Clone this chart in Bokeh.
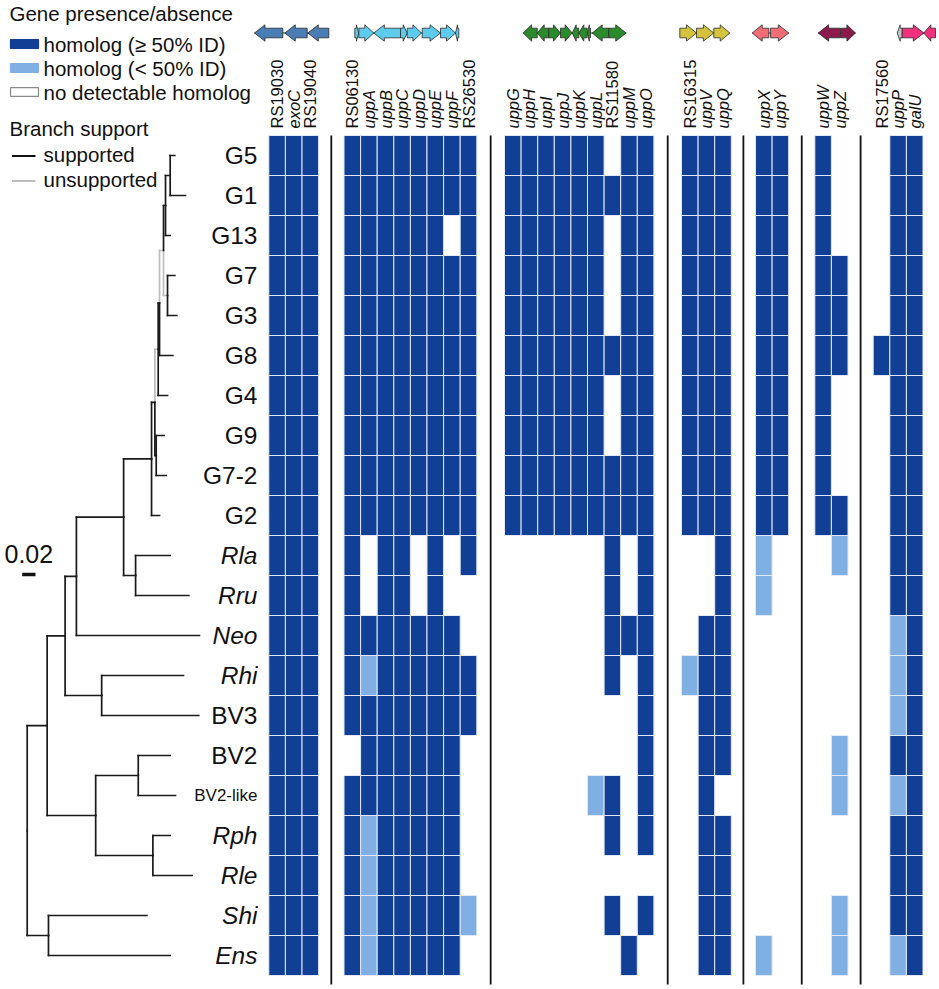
import numpy as np
from bokeh.plotting import figure
from bokeh.models import Range1d, ColumnDataSource
from bokeh.core.properties import value
from bokeh.embed import file_html
from bokeh.resources import INLINE

# ---------------- data ----------------
row_labels = ["G5", "G1", "G13", "G7", "G3", "G8", "G4", "G9", "G7-2", "G2",
              "Rla", "Rru", "Neo", "Rhi", "BV3", "BV2", "BV2-like", "Rph", "Rle", "Shi", "Ens"]
italic_rows = ["Rla", "Rru", "Neo", "Rhi", "Rph", "Rle", "Shi", "Ens"]

group_genes = [
    ["RS19030", "exoC", "RS19040"],
    ["RS06130", "uppA", "uppB", "uppC", "uppD", "uppE", "uppF", "RS26530"],
    ["uppG", "uppH", "uppI", "uppJ", "uppK", "uppL", "RS11580", "uppM", "uppO"],
    ["RS16315", "uppV", "uppQ"],
    ["uppX", "uppY"],
    ["uppW", "uppZ"],
    ["RS17560", "uppP", "galU"],
]

# 2 = homolog >=50% ID, 1 = homolog <50% ID, 0 = none (groups separated by spaces)
presence = [
    "222 22222222 222222022 222 22 20 022",  # G5
    "222 22222222 222222222 222 22 20 022",  # G1
    "222 22222202 222222022 222 22 20 022",  # G13
    "222 22222222 222222022 222 22 22 022",  # G7
    "222 22222222 222222022 222 22 22 022",  # G3
    "222 22222222 222222222 222 22 22 222",  # G8
    "222 22222222 222222022 222 22 20 022",  # G4
    "222 22222222 222222022 222 22 20 022",  # G9
    "222 22222222 222222222 222 22 20 022",  # G7-2
    "222 22222222 222222222 222 22 22 022",  # G2
    "222 20220202 000000202 002 10 01 022",  # Rla
    "222 20220200 000000202 002 10 00 022",  # Rru
    "222 22222220 000000222 022 00 00 012",  # Neo
    "222 21222222 000000202 122 00 00 012",  # Rhi
    "222 22222222 000000002 022 00 00 012",  # BV3
    "222 02222220 000000002 022 00 01 022",  # BV2
    "222 22222220 000001202 020 00 01 012",  # BV2-like
    "222 21222220 000000202 022 00 00 022",  # Rph
    "222 21222220 000000000 022 00 00 022",  # Rle
    "222 21222221 000000202 022 00 01 022",  # Shi
    "222 21222220 000000020 022 10 01 012",  # Ens
]

# tree: tip depths (substitutions/site from root) in row order
tip_depth = [0.222, 0.238, 0.215, 0.222, 0.225, 0.219, 0.211, 0.206, 0.209, 0.199,
             0.215, 0.243, 0.259, 0.235, 0.258, 0.215, 0.223, 0.215, 0.248, 0.180, 0.215]
node_names = ["N1", "N2", "N7", "N3", "N4", "N5", "N8", "N6", "GR", "RR", "NR", "A1a",
              "RB", "A1", "BB", "RL", "A2", "A", "SE", "root"]
node_child1 = ["G5", "N1", "G7", "N2", "N3", "N4", "G9", "N5", "N6", "Rla", "GR", "NR",
               "Rhi", "A1a", "BV2", "Rph", "BB", "A1", "Shi", "A"]
node_child2 = ["G1", "G13", "G3", "N7", "G8", "G4", "G7-2", "N8", "G2", "Rru", "RR", "Neo",
               "BV3", "RB", "BV2-like", "Rle", "RL", "A2", "Ens", "SE"]
node_depth = [0.215, 0.208, 0.211, 0.205, 0.199, 0.197, 0.194, 0.192, 0.187, 0.163, 0.145, 0.074,
              0.112, 0.057, 0.167, 0.189, 0.103, 0.030, 0.032, 0.0]
unsupported = ["N7", "N3", "N5"]
scale_bar_len = 0.02

# gene-cluster arrows (start, end, strand) per cluster, drawn above columns
arrow_cluster = [0, 0, 0,
                 1, 1, 1, 1, 1, 1, 1, 1,
                 2, 2, 2, 2, 2, 2, 2, 2, 2,
                 3, 3, 3,
                 4, 4,
                 5, 5,
                 6, 6, 6]
arrow_start = [254.0, 284.3, 307.3,
               354.3, 358.3, 373.3, 400.0, 406.7, 421.7, 440.0, 455.0,
               522.7, 536.7, 548.3, 560.0, 571.7, 578.3, 587.0, 591.7, 608.3,
               679.3, 696.0, 713.3,
               751.7, 770.0,
               817.7, 840.7,
               896.7, 901.7, 923.3]
arrow_end = [282.3, 306.7, 328.3,
             358.3, 373.3, 400.0, 406.7, 421.0, 440.0, 455.0, 458.3,
             536.7, 548.3, 560.0, 571.7, 578.3, 586.7, 590.0, 608.3, 625.7,
             696.0, 713.3, 729.3,
             768.3, 788.3,
             840.0, 855.0,
             901.7, 923.3, 935.0]
arrow_strand = [-1, -1, -1,
                1, 1, -1, 1, 1, 1, 1, -1,
                -1, -1, 1, 1, -1, -1, -1, -1, 1,
                1, 1, 1,
                -1, 1,
                -1, 1,
                -1, 1, -1]
cluster_colors = ["#4a7db3", "#5ccbee", "#2b8a2b", "#d3c33d", "#f26d76", "#8c1a4e", "#f0307c"]
arrow_special_color = {27: "#c4c4c4"}

legend_labels = ["homolog (\u2265 50% ID)", "homolog (< 50% ID)", "no detectable homolog"]

# ---------------- layout / style ----------------
DARK = "#123f96"
LIGHT = "#80b0e3"
FONT = value("Liberation Sans")
ROW_TOP, ROW_H = 135.0, 40.0
CELL_W = 16.6
GROUP_X0 = [268.3, 343.5, 504.0, 681.0, 755.0, 814.3, 872.7]
TREE_X0, PX_PER_UNIT = 26.7, 665.0
LEG_FS = "20.5px"

W, H = 939, 989
p = figure(width=W, height=H, x_range=Range1d(0, W), y_range=Range1d(H, 0),
           output_backend="svg", toolbar_location=None, min_border=0,
           x_axis_type=None, y_axis_type=None)
p.grid.visible = False
p.outline_line_color = None
p.background_fill_color = "white"
p.border_fill_color = "white"

# ---------------- heatmap ----------------
lefts, rights, tops, bottoms, colors = [], [], [], [], []
col_x, col_lab, col_ital = [], [], []
for g, genes in enumerate(group_genes):
    for j, gname in enumerate(genes):
        x0 = GROUP_X0[g] + j * CELL_W
        col_x.append(x0 + CELL_W / 2)
        col_lab.append(gname)
        col_ital.append(not gname.startswith("RS"))
for r, rowstr in enumerate(presence):
    parts = rowstr.split()
    for g, part in enumerate(parts):
        for j, ch in enumerate(part):
            v = int(ch)
            if v == 0:
                continue
            x0 = GROUP_X0[g] + j * CELL_W
            lefts.append(x0)
            rights.append(x0 + CELL_W)
            tops.append(ROW_TOP + r * ROW_H)
            bottoms.append(ROW_TOP + (r + 1) * ROW_H)
            colors.append(DARK if v == 2 else LIGHT)
src = ColumnDataSource(dict(left=lefts, right=rights, top=tops, bottom=bottoms, color=colors))
p.quad(left="left", right="right", top="top", bottom="bottom", fill_color="color",
       line_color="#e3e8f5", line_width=1, source=src)

# dividers between groups
div_x = []
for g in range(len(group_genes) - 1):
    end_g = GROUP_X0[g] + len(group_genes[g]) * CELL_W
    div_x.append((end_g + GROUP_X0[g + 1]) / 2)
p.segment(x0=div_x, x1=div_x, y0=[ROW_TOP] * len(div_x), y1=[984] * len(div_x),
          line_color="#111111", line_width=1.8)

# column labels
normal_idx = [i for i in range(len(col_lab)) if not col_ital[i]]
ital_idx = [i for i in range(len(col_lab)) if col_ital[i]]
for idx, style in ((normal_idx, "normal"), (ital_idx, "italic")):
    p.text(x=[col_x[i] for i in idx], y=[128] * len(idx), text=[col_lab[i] for i in idx],
           angle=np.pi / 2, text_align="left", text_baseline="middle",
           text_font=FONT, text_font_size="16.5px", text_font_style=style, text_color="#111111")

# row labels
row_y = [ROW_TOP + (i + 0.5) * ROW_H for i in range(len(row_labels))]
groups_lab = {"normal": [], "italic": [], "small": []}
for i, lab in enumerate(row_labels):
    if lab in italic_rows:
        groups_lab["italic"].append(i)
    elif lab == "BV2-like":
        groups_lab["small"].append(i)
    else:
        groups_lab["normal"].append(i)
for key, idx in groups_lab.items():
    p.text(x=[257] * len(idx), y=[row_y[i] for i in idx], text=[row_labels[i] for i in idx],
           text_align="right", text_baseline="middle", text_font=FONT,
           text_font_size="17px" if key == "small" else "24.5px",
           text_font_style="italic" if key == "italic" else "normal", text_color="#111111")

# ---------------- tree ----------------
pos_x, pos_y = {}, {}
for i, lab in enumerate(row_labels):
    pos_x[lab] = TREE_X0 + tip_depth[i] * PX_PER_UNIT
    pos_y[lab] = row_y[i]
for n, c1, c2, d in zip(node_names, node_child1, node_child2, node_depth):
    pos_x[n] = TREE_X0 + d * PX_PER_UNIT
    pos_y[n] = (pos_y[c1] + pos_y[c2]) / 2

seg = {"sup": ([], [], [], []), "uns": ([], [], [], [])}
for n, c1, c2 in zip(node_names, node_child1, node_child2):
    for c in (c1, c2):
        key = "uns" if c in unsupported else "sup"
        x0s, x1s, y0s, y1s = seg[key]
        x0s.append(pos_x[n]); x1s.append(pos_x[n]); y0s.append(pos_y[n]); y1s.append(pos_y[c])
        x0s.append(pos_x[n]); x1s.append(pos_x[c]); y0s.append(pos_y[c]); y1s.append(pos_y[c])
for key, col in (("uns", "#bdbdbd"), ("sup", "#1a1a1a")):
    x0s, x1s, y0s, y1s = seg[key]
    p.segment(x0=x0s, x1=x1s, y0=y0s, y1=y1s, line_color=col, line_width=1.7, line_cap="square")

# scale bar
p.segment(x0=[21.7], x1=[21.7 + scale_bar_len * PX_PER_UNIT], y0=[574], y1=[574],
          line_color="#111111", line_width=3.5)
p.text(x=[4], y=[553], text=[f"{scale_bar_len:.2f}"], text_align="left", text_baseline="middle",
       text_font=FONT, text_font_size="25px", text_color="#111111")

# ---------------- gene arrows ----------------
YC, BH, HH = 32.5, 4.8, 8.2
xs_list, ys_list, fills = [], [], []
for k, (s, e, st, c) in enumerate(zip(arrow_start, arrow_end, arrow_strand, arrow_cluster)):
    L = e - s
    head = min(10.5, L * 0.6)
    if st > 0:
        xs = [s, e - head, e - head, e, e - head, e - head, s]
    else:
        xs = [e, s + head, s + head, s, s + head, s + head, e]
    ys = [YC - BH, YC - BH, YC - HH, YC, YC + HH, YC + BH, YC + BH]
    xs_list.append(xs)
    ys_list.append(ys)
    fills.append(arrow_special_color.get(k, cluster_colors[c]))
bb_x0, bb_x1 = [], []
for c in range(len(cluster_colors)):
    ss = [s for s, cc in zip(arrow_start, arrow_cluster) if cc == c]
    ee = [e for e, cc in zip(arrow_end, arrow_cluster) if cc == c]
    bb_x0.append(min(ss)); bb_x1.append(max(ee))
p.segment(x0=bb_x0, x1=bb_x1, y0=[YC] * len(bb_x0), y1=[YC] * len(bb_x0),
          line_color="#333333", line_width=1)
p.patches(xs=xs_list, ys=ys_list, fill_color=fills, line_color="#2a2a2a", line_width=0.8)

# ---------------- legends ----------------
p.text(x=[9], y=[13], text=["Gene presence/absence"], text_align="left", text_baseline="middle",
       text_font=FONT, text_font_size=LEG_FS, text_color="#111111")
leg_y = [43.5, 67.5, 91.5]
p.quad(left=[10, 10, 10], right=[38, 38, 38], top=[y - 4.3 for y in leg_y],
       bottom=[y + 4.3 for y in leg_y], fill_color=[DARK, LIGHT, "white"],
       line_color=[DARK, LIGHT, "#8a8a8a"], line_width=1.2)
p.text(x=[43] * 3, y=leg_y, text=legend_labels, text_align="left", text_baseline="middle",
       text_font=FONT, text_font_size=LEG_FS, text_color="#111111")

p.text(x=[9], y=[128], text=["Branch support"], text_align="left", text_baseline="middle",
       text_font=FONT, text_font_size=LEG_FS, text_color="#111111")
sup_y = [155.5, 180.5]
p.segment(x0=[11.5, 11.5], x1=[35, 35], y0=sup_y, y1=sup_y, line_color=["#111111", "#bdbdbd"],
          line_width=2.2)
p.text(x=[43, 43], y=[154, 179], text=["supported", "unsupported"], text_align="left",
       text_baseline="middle", text_font=FONT, text_font_size=LEG_FS, text_color="#111111")

open("out.html", "w").write(file_html(p, INLINE))
